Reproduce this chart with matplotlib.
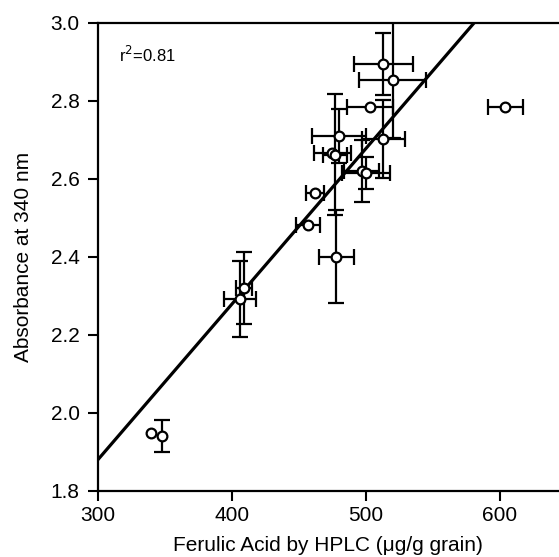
import numpy as np
import matplotlib
matplotlib.use("Agg")
import matplotlib.pyplot as plt

plt.rcParams['font.family'] = ['Liberation Sans', 'DejaVu Sans']

# ferulic acid by HPLC vs absorbance, one entry per sample (nan = no bar drawn)
ferulic = [513, 520, 503, 513, 480, 475, 477, 497, 500, 462, 457, 478, 409, 406, 340, 348, 604]
absorb = [2.894, 2.854, 2.783, 2.702, 2.710, 2.667, 2.662, 2.620, 2.615, 2.563, 2.482,
          2.401, 2.320, 2.292, 1.948, 1.941, 2.783]
ferulic_err = [22, 25, 17, 16, 20, 14, 9, 13, 18, 7, 9, 13, 6, 12, np.nan, np.nan, 13]
absorb_err = [0.08, 0.15, np.nan, 0.10, 0.07, np.nan, 0.155, 0.08, 0.04, np.nan, np.nan,
              0.12, 0.092, 0.098, np.nan, 0.04, np.nan]

# fitted line y = intercept + slope * x
intercept = 0.683
slope = 0.00399
r_squared = 0.81

fig = plt.figure(figsize=(5.59, 5.57), dpi=100)
ax = fig.add_axes([0.175, 0.1185, 0.825, 0.8405])

xs = np.array([300, 650])
ax.plot(xs, intercept + slope * xs, color='black', lw=2.3, zorder=1.5)

ax.errorbar(ferulic, absorb, xerr=ferulic_err, yerr=absorb_err, fmt='o',
            color='black', ms=7, mfc='white', mec='black', mew=1.6,
            ecolor='black', elinewidth=1.6, capsize=5.5, capthick=1.6, zorder=2)

ax.text(316, 2.918, f"r$^2$={r_squared}", fontsize=12, va='center', ha='left')

ax.set_xlim(300, 644)
ax.set_ylim(1.8, 3.0)
ax.set_xticks([300, 400, 500, 600])
ax.set_yticks([1.8, 2.0, 2.2, 2.4, 2.6, 2.8, 3.0])
ax.set_yticklabels(['1.8', '2.0', '2.2', '2.4', '2.6', '2.8', '3.0'])

ax.spines['right'].set_visible(False)
for s in ['left', 'bottom', 'top']:
    ax.spines[s].set_linewidth(1.6)

ax.tick_params(direction='out', length=7, width=1.5, labelsize=15)
ax.tick_params(axis='x', pad=4)
ax.tick_params(axis='y', pad=6)

ax.set_xlabel("Ferulic Acid by HPLC (μg/g grain)", fontsize=15, labelpad=8)
ax.set_ylabel("Absorbance at 340 nm", fontsize=15, labelpad=13)

fig.savefig("out.png", dpi=100)
